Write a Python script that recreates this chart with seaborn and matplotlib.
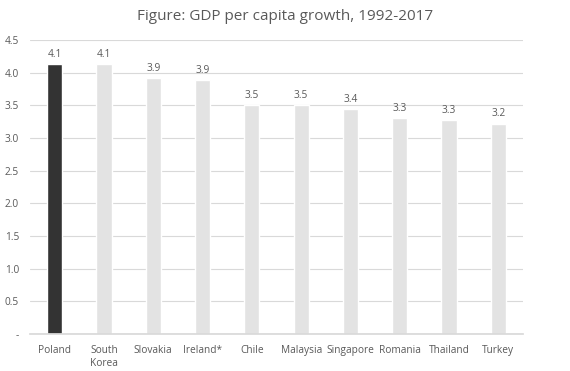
import numpy as np
import pandas as pd
import matplotlib
matplotlib.use("Agg")
import matplotlib.pyplot as plt
import seaborn as sns

# Data
countries = ["Poland", "South\nKorea", "Slovakia", "Ireland*", "Chile",
             "Malaysia", "Singapore", "Romania", "Thailand", "Turkey"]
growth = [4.13, 4.13, 3.92, 3.89, 3.50, 3.50, 3.44, 3.30, 3.28, 3.22]
bar_colors = ["#333333"] + ["#e3e3e3"] * 9
yticks = [0, 0.5, 1.0, 1.5, 2.0, 2.5, 3.0, 3.5, 4.0, 4.5]
ytick_labels = ["-", "0.5", "1.0", "1.5", "2.0", "2.5", "3.0", "3.5", "4.0", "4.5"]

df = pd.DataFrame({"country": countries, "growth": growth})

sns.set_theme(style="white")
plt.rcParams["font.family"] = ["Open Sans", "DejaVu Sans"]

text_col = "#595959"

fig = plt.figure(figsize=(5.7, 3.71), dpi=100)
ax = fig.add_axes([30 / 570, 37 / 371, 493 / 570, 294 / 371])

sns.barplot(data=df, x="country", y="growth", hue="country",
            palette=bar_colors, width=0.31, legend=False, ax=ax,
            saturation=1)

for c in ax.containers:
    ax.bar_label(c, fmt="%.1f", padding=3, fontsize=7.3, color=text_col)

ax.set_ylim(0, 4.5)
ax.set_xlim(-0.5, len(countries) - 0.5)
ax.set_yticks(yticks)
ax.set_yticklabels(ytick_labels)
ax.yaxis.grid(True, color="#d9d9d9", linewidth=0.8)
ax.set_axisbelow(True)
for s in ["top", "right", "left"]:
    ax.spines[s].set_visible(False)
ax.spines["bottom"].set_color("#d9d9d9")
ax.tick_params(axis="both", length=0, labelsize=7.3, colors=text_col)
ax.tick_params(axis="x", pad=8)
ax.tick_params(axis="y", pad=8)
ax.set_xlabel("")
ax.set_ylabel("")

fig.suptitle("Figure: GDP per capita growth, 1992-2017", x=0.5, y=0.975,
             fontsize=11, color=text_col)

fig.savefig("out.png", dpi=100)
